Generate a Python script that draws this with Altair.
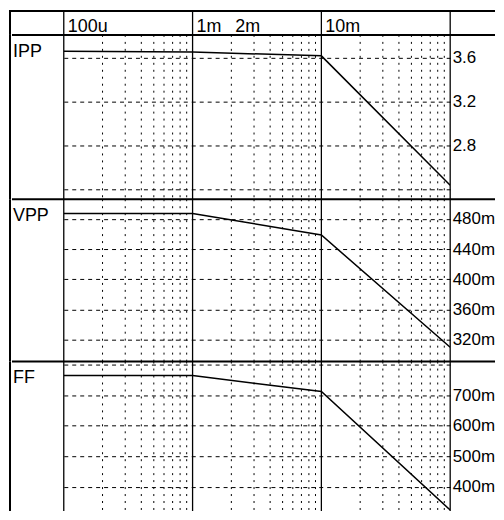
import altair as alt
import pandas as pd

# ---- data ----
freq = [1e-4, 1e-3, 1e-2, 1e-1]
ipp = [3.658, 3.650, 3.615, 2.434]
vpp = [0.4871, 0.4871, 0.4586, 0.3103]
ff = [0.764, 0.764, 0.712, 0.323]

decades = [1e-4, 1e-3, 1e-2, 1e-1]
minor = [m * d for d in [1e-4, 1e-3, 1e-2] for m in range(2, 10)]

header_labels = ["100u", "1m", "2m", "10m"]
header_pos = [1e-4, 1e-3, 2e-3, 1e-2]

ipp_ticks = [2.4, 2.8, 3.2, 3.6]
vpp_ticks = [0.32, 0.36, 0.40, 0.44, 0.48]
ff_ticks = [0.3, 0.4, 0.5, 0.6, 0.7, 0.8]

FONT = "Liberation Sans"
W = 388
RIGHT = 433
xscale = alt.Scale(type="log", domain=[1e-4, 1e-1], nice=False)
one = pd.DataFrame({"a": [0]})


def borders(height, top_sep=True):
    layers = [
        alt.Chart(one).mark_rule(color="black", strokeWidth=2).encode(
            x=alt.value(-54), y=alt.value(0), y2=alt.value(height)
        )
    ]
    if top_sep:
        layers.append(
            alt.Chart(one).mark_rule(color="black", strokeWidth=2).encode(
                x=alt.value(-52), x2=alt.value(RIGHT), y=alt.value(0)
            )
        )
    return layers


def decade_rules():
    return alt.Chart(pd.DataFrame({"d": decades})).mark_rule(
        color="black", strokeWidth=1.3
    ).encode(x=alt.X("d:Q", scale=xscale, axis=None))


def minor_rules():
    return alt.Chart(pd.DataFrame({"m": minor})).mark_rule(
        color="black", strokeWidth=1, strokeDash=[2, 5]
    ).encode(x=alt.X("m:Q", scale=xscale, axis=None))


def panel(name, values, domain, ticks, label_expr, height):
    df = pd.DataFrame({"f": freq, "v": values})
    line = alt.Chart(df).mark_line(color="black", strokeWidth=1.5, clip=True).encode(
        x=alt.X("f:Q", scale=xscale, axis=None),
        y=alt.Y(
            "v:Q",
            scale=alt.Scale(domain=domain, nice=False, zero=False),
            axis=alt.Axis(
                orient="right", values=ticks, grid=True, gridDash=[4, 4],
                gridColor="black", gridOpacity=1, gridWidth=1,
                labelExpr=label_expr, labelFont=FONT, labelFontSize=17,
                labelColor="black", labelPadding=2, ticks=False, domain=False,
                title=None, labelFlush=False, labelOverlap=False,
                labelBaseline="middle",
            ),
        ),
    )
    name_text = alt.Chart(one).mark_text(
        align="left", baseline="alphabetic", font=FONT, fontSize=18, color="black"
    ).encode(x=alt.value(-51), y=alt.value(22), text=alt.value(name))
    return alt.layer(
        minor_rules(), line, decade_rules(), name_text, *borders(height)
    ).properties(width=W, height=height)


# header row
hdf = pd.DataFrame({"lab": header_labels, "pos": header_pos})
header_text = alt.Chart(hdf).mark_text(
    align="left", baseline="alphabetic", font=FONT, fontSize=18, color="black", dx=4
).encode(
    x=alt.X("pos:Q", scale=xscale, axis=None),
    y=alt.value(22),
    text="lab:N",
)
top_border = alt.Chart(one).mark_rule(color="black", strokeWidth=2).encode(
    x=alt.value(-55), x2=alt.value(RIGHT), y=alt.value(1)
)
header = alt.layer(
    decade_rules(), header_text, top_border, *borders(25, top_sep=False)
).properties(width=W, height=25)

p1 = panel("IPP", ipp, [2.306, 3.806], ipp_ticks,
           "datum.value < 2.5 ? '' : format(datum.value, '.1f')", 165)
p2 = panel("VPP", vpp, [0.2914, 0.5059], vpp_ticks,
           "format(round(datum.value * 1000), 'd') + 'm'", 163)
p3 = panel("FF", ff, [0.32, 0.81], ff_ticks,
           "(datum.value < 0.35 || datum.value > 0.75) ? '' : format(round(datum.value * 1000), 'd') + 'm'", 150)

chart = alt.vconcat(header, p1, p2, p3, spacing=0, bounds="flush").properties(
    padding=0
).configure_view(stroke=None).configure_concat(spacing=0)

chart.save("out.html", embed_options={"renderer": "svg", "actions": False})
